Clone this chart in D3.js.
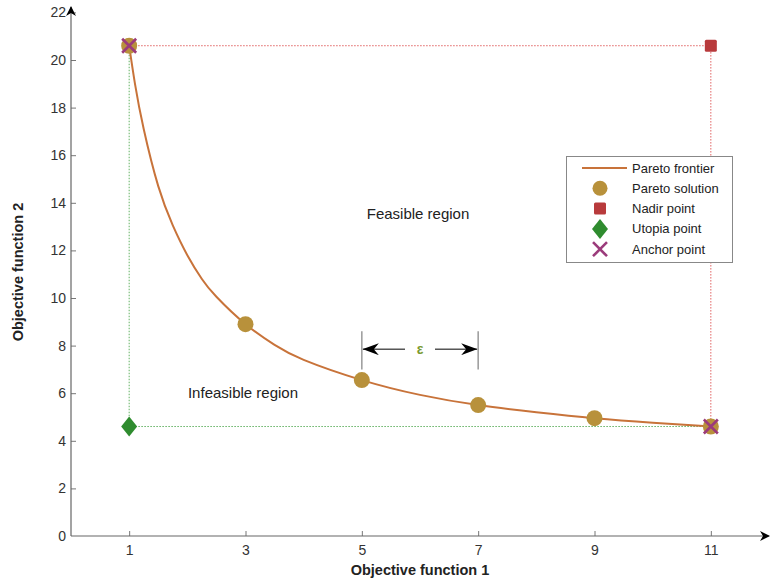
<!DOCTYPE html>
<html><head><meta charset="utf-8">
<script src="https://cdn.jsdelivr.net/npm/d3@7"></script>
<style>body{margin:0;background:#fff}svg{display:block;font-family:"Liberation Sans",Arial,sans-serif}</style>
</head><body><svg id="c" width="770" height="581"></svg>
<script>
// Data
const xTicks = [1,3,5,7,9,11];
const yTicks = [0,2,4,6,8,10,12,14,16,18,20,22];
const paretoX = [1,3,5,7,9,11];
const paretoY = [20.6,8.9,6.55,5.5,4.95,4.6];
const frontierX = [1,1.1,1.25,1.5,1.75,2,2.25,2.5,3,3.5,4,5,6,7,8,9,10,11];
const frontierY = [20.6,19.0,17.1,14.7,13.05,11.8,10.8,10.05,8.9,8.03,7.4,6.55,5.93,5.5,5.2,4.95,4.76,4.6];
const nadir = [11,20.6];
const utopia = [1,4.6];
const anchors = [[1,20.6],[11,4.6]];
const epsRange = [5,7];
const legendLabels = ["Pareto frontier","Pareto solution","Nadir point","Utopia point","Anchor point"];

const C = {curve:"#c8733a", circ:"#b8913b", sq:"#b83a3c", dia:"#2f8c2f", x:"#9b3b7b"};
const svg = d3.select("#c");
const x = d3.scaleLinear().domain([0,12]).range([71,769]);
const y = d3.scaleLinear().domain([0,22]).range([536,12.4]);

const defs = svg.append("defs");
defs.append("marker").attr("id","ah").attr("viewBox","0 0 10 10").attr("refX",9).attr("refY",5)
  .attr("markerWidth",10).attr("markerHeight",10).attr("markerUnits","userSpaceOnUse").attr("orient","auto")
  .append("path").attr("d","M0,0 L10,5 L0,10 L3,5 Z").attr("fill","#000");
defs.append("marker").attr("id","ah2").attr("viewBox","0 0 16 12").attr("refX",16).attr("refY",6)
  .attr("markerWidth",16).attr("markerHeight",12).attr("markerUnits","userSpaceOnUse").attr("orient","auto")
  .append("path").attr("d","M0,0 L16,6 L0,12 L5,6 Z").attr("fill","#000");

// axes
const gx = svg.append("g").attr("transform",`translate(0,${y(0)})`)
  .call(d3.axisBottom(x).tickValues(xTicks).tickSize(-5).tickPadding(9).tickFormat(d3.format("d")));
const gy = svg.append("g").attr("transform",`translate(${x(0)},0)`)
  .call(d3.axisLeft(y).tickValues(yTicks).tickSize(-5).tickPadding(5).tickFormat(d3.format("d")));
[gx,gy].forEach(g=>{
  g.select(".domain").remove();
  g.selectAll(".tick line").attr("stroke","#777");
  g.selectAll(".tick text").attr("fill","#333").style("font-size","14px");
});
gy.selectAll(".tick").filter(d=>d===0).select("line").remove();
svg.append("line").attr("x1",x(0)).attr("x2",769).attr("y1",y(0)).attr("y2",y(0))
  .attr("stroke","#666").attr("stroke-width",1.2).attr("marker-end","url(#ah)");
svg.append("line").attr("x1",x(0)).attr("x2",x(0)).attr("y1",y(0)).attr("y2",7)
  .attr("stroke","#666").attr("stroke-width",1.2).attr("marker-end","url(#ah)");

svg.append("text").attr("x",420).attr("y",575).attr("text-anchor","middle")
  .style("font-size","14.5px").style("font-weight","bold").attr("fill","#222").text("Objective function 1");
svg.append("text").attr("transform","translate(23,272) rotate(-90)").attr("text-anchor","middle")
  .style("font-size","14.5px").style("font-weight","bold").attr("fill","#222").text("Objective function 2");

// dotted boundaries
const ln = d3.line().x(d=>x(d[0])).y(d=>y(d[1]));
svg.append("path").attr("d",ln([anchors[0],nadir,anchors[1]])).attr("fill","none")
  .attr("stroke","#e06060").attr("stroke-width",1).attr("stroke-dasharray","1.5,1.5");
svg.append("path").attr("d",ln([anchors[0],utopia,anchors[1]])).attr("fill","none")
  .attr("stroke","#60b060").attr("stroke-width",1).attr("stroke-dasharray","1.5,1.5");

// frontier
const fr = frontierX.map((v,i)=>[v,frontierY[i]]);
svg.append("path").attr("d",d3.line().x(d=>x(d[0])).y(d=>y(d[1])).curve(d3.curveNatural)(fr))
  .attr("fill","none").attr("stroke",C.curve).attr("stroke-width",2);

// pareto solutions
svg.selectAll("circle.p").data(paretoX.map((v,i)=>[v,paretoY[i]])).enter().append("circle")
  .attr("cx",d=>x(d[0])).attr("cy",d=>y(d[1])).attr("r",8).attr("fill",C.circ);

function drawSq(g,cx,cy){g.append("rect").attr("x",cx-6).attr("y",cy-6).attr("width",12).attr("height",12).attr("rx",1.5).attr("fill",C.sq);}
function drawDia(g,cx,cy){g.append("path").attr("d",`M${cx},${cy-10}L${cx+8},${cy}L${cx},${cy+10}L${cx-8},${cy}Z`).attr("fill",C.dia);}
function drawX(g,cx,cy){const s=7;g.append("path").attr("d",`M${cx-s},${cy-s}L${cx+s},${cy+s}M${cx-s},${cy+s}L${cx+s},${cy-s}`).attr("stroke",C.x).attr("stroke-width",2.6).attr("fill","none");}
drawSq(svg,x(nadir[0]),y(nadir[1]));
drawDia(svg,x(utopia[0]),y(utopia[1]));
anchors.forEach(a=>drawX(svg,x(a[0]),y(a[1])));

// epsilon annotation
const e0=x(epsRange[0]), e1=x(epsRange[1]);
[e0,e1].forEach(px=>svg.append("line").attr("x1",px).attr("x2",px).attr("y1",y(8.6)).attr("y2",y(7.0)).attr("stroke","#999").attr("stroke-width",1.5));
const ay=y(7.85);
svg.append("line").attr("x1",(e0+e1)/2-15).attr("x2",e0+1).attr("y1",ay).attr("y2",ay).attr("stroke","#000").attr("stroke-width",1).attr("marker-end","url(#ah2)");
svg.append("line").attr("x1",(e0+e1)/2+15).attr("x2",e1-1).attr("y1",ay).attr("y2",ay).attr("stroke","#000").attr("stroke-width",1).attr("marker-end","url(#ah2)");
svg.append("text").attr("x",(e0+e1)/2).attr("y",ay+4.5).attr("text-anchor","middle").attr("fill","#7a9a30")
  .style("font-size","14px").style("font-weight","bold").text("ε");

// region labels
svg.append("text").attr("x",418).attr("y",219).attr("text-anchor","middle").style("font-size","15px").attr("fill","#222").text("Feasible region");
svg.append("text").attr("x",243).attr("y",398).attr("text-anchor","middle").style("font-size","15px").attr("fill","#222").text("Infeasible region");

// legend
const lg = svg.append("g");
lg.append("rect").attr("x",566.5).attr("y",156.5).attr("width",166).attr("height",106).attr("fill","#fff").attr("stroke","#888").attr("stroke-width",1);
legendLabels.forEach((t,i)=>{
  const cy=168+i*20.3, cx=600;
  if(i===0) lg.append("line").attr("x1",582).attr("x2",627).attr("y1",cy).attr("y2",cy).attr("stroke",C.curve).attr("stroke-width",2);
  if(i===1) lg.append("circle").attr("cx",cx).attr("cy",cy).attr("r",7.5).attr("fill",C.circ);
  if(i===2) drawSq(lg,cx,cy);
  if(i===3) drawDia(lg,cx,cy);
  if(i===4) drawX(lg,cx,cy);
  lg.append("text").attr("x",632).attr("y",cy+4.5).style("font-size","13px").attr("fill","#222").text(t);
});
</script></body></html>
